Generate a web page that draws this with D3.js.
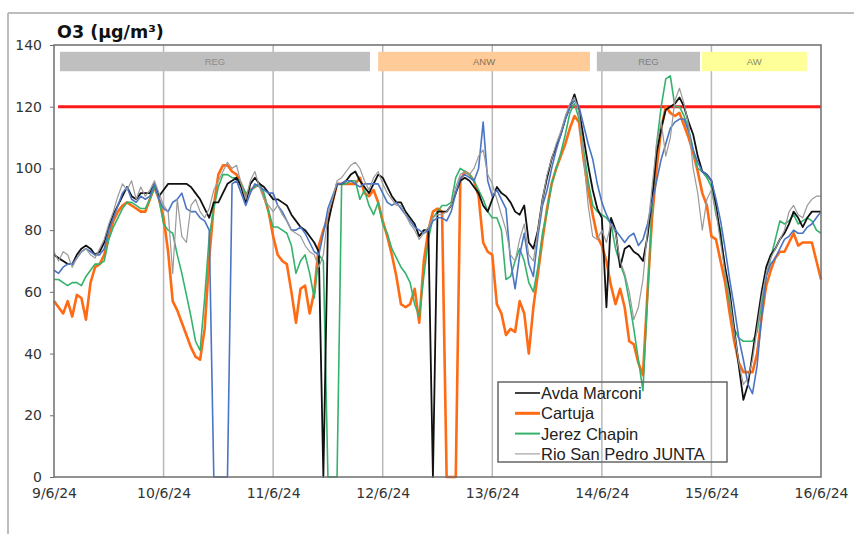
<!DOCTYPE html>
<html>
<head>
<meta charset="utf-8">
<script src="https://cdn.jsdelivr.net/npm/d3@7/dist/d3.min.js"></script>
<style>
  html, body { margin: 0; padding: 0; background: #fff; }
  svg { display: block; }
</style>
</head>
<body>
<svg id="chart" width="854" height="534"></svg>
<script>
// ---------- DATA ----------
const startDate = new Date(2024, 5, 9, 0, 0);
const dayTickLabels = ["9/6/24", "10/6/24", "11/6/24", "12/6/24", "13/6/24", "14/6/24", "15/6/24", "16/6/24"];
const yTicks = [0, 20, 40, 60, 80, 100, 120, 140];
const seriesNames = ["Avda Marconi", "Cartuja", "Jerez Chapin", "Rio San Pedro JUNTA", ""];
const limitValue = 120;

// Hourly O3 values, 9/6/24 00:00 .. 16/6/24 00:00
const avdaMarconi = [
72,71,70,69,69,72,74,75,74,72,73,76,81,85,88,91,94,91,90,92,92,92,95,91,
93,95,95,95,95,95,94,92,90,87,84,89,89,92,95,96,97,94,89,95,97,95,94,92,
90,90,89,88,85,83,81,80,78,76,73,0,82,89,95,95,96,98,99,96,94,92,95,98,
97,94,91,89,89,86,84,82,78,80,80,0,86,86,86,88,92,96,97,96,94,92,88,86,
90,94,92,91,89,86,85,88,76,74,80,90,97,103,107,111,116,120,124,119,110,101,93,87,
84,55,84,80,68,74,75,73,72,70,78,90,105,113,119,120,121,123,120,115,111,104,99,98,
96,88,78,68,60,48,36,25,30,40,50,60,68,72,74,77,79,82,86,84,81,84,86,86,
86];
const cartuja = [
57,55,53,57,52,59,58,51,63,68,69,72,78,83,86,88,89,88,87,86,86,90,94,90,
84,73,57,54,50,46,42,39,38,48,71,88,98,101,101,99,98,95,91,93,94,95,91,86,
78,72,70,69,60,50,61,62,53,60,75,80,84,89,95,95,95,95,95,97,92,91,93,89,
83,78,72,65,56,55,56,61,50,70,80,86,87,86,0,0,0,96,99,98,96,91,76,73,
72,56,53,46,48,47,57,53,40,55,66,77,87,95,100,104,108,113,117,115,103,93,85,78,
75,70,62,56,61,55,44,43,37,33,60,84,100,113,120,118,117,118,114,110,105,99,92,88,
78,77,70,63,53,44,37,34,34,34,40,52,62,67,71,73,73,76,79,75,76,76,76,70,
64];
const jerezChapin = [
64,64,63,62,63,63,62,65,67,69,69,70,77,81,84,87,89,89,88,87,87,90,94,90,
82,80,79,72,66,59,52,44,41,58,78,87,94,98,98,97,97,95,92,93,94,95,92,86,
81,81,80,79,75,66,70,72,66,58,72,70,0,0,0,95,95,96,96,90,93,88,85,89,
82,79,74,71,68,66,63,56,52,65,77,84,86,88,88,89,97,100,99,98,96,93,90,86,
84,84,80,64,65,70,74,70,63,60,68,79,86,95,100,105,111,118,121,116,106,96,88,86,
85,84,82,74,69,65,57,48,38,28,58,88,108,120,129,130,120,120,117,113,106,100,99,97,
94,85,80,66,56,48,45,44,44,44,47,56,65,71,77,83,82,83,85,82,83,84,83,80,
79];
const rioSanPedro = [
73,70,73,72,68,71,73,74,72,71,74,77,82,86,91,95,93,96,90,94,91,93,96,92,
88,86,66,90,78,76,88,90,86,84,87,93,96,99,102,100,101,95,90,96,99,94,90,88,
86,88,85,83,80,79,78,75,73,72,68,72,85,90,96,97,99,101,102,100,96,93,97,99,
95,92,90,88,88,85,82,80,77,79,81,84,85,85,86,88,94,98,99,98,100,104,106,98,
95,90,85,80,72,70,77,82,72,70,80,90,98,103,108,112,117,121,123,118,104,88,78,77,
80,76,82,79,70,66,60,51,55,64,80,94,108,115,104,110,122,126,121,114,100,92,80,90,
93,86,76,66,58,47,37,30,32,38,48,58,66,71,74,77,80,86,88,85,84,88,90,91,
91];
const fifthStation = [
67,66,68,69,69,71,73,74,73,72,72,74,80,84,88,92,94,90,89,91,90,91,95,90,
87,86,89,90,92,87,86,86,84,83,80,0,0,0,0,95,96,92,88,92,95,94,93,92,
92,88,86,83,80,80,81,79,76,73,72,79,87,91,95,95,96,96,95,94,95,95,95,95,
92,89,88,89,87,85,83,81,80,79,80,83,84,84,83,86,92,97,98,97,96,100,115,96,
91,93,90,87,70,61,72,79,69,65,78,88,93,100,106,111,116,120,122,120,114,108,103,95,
89,85,82,80,78,76,78,79,75,77,82,89,96,103,108,113,115,116,116,112,106,102,99,98,
96,90,83,74,64,55,45,38,30,27,36,52,65,69,71,74,77,78,80,79,79,81,82,84,
86];

// Episode bands (hours from start) drawn at the top of the plot
const bandLabels = ["REG", "ANW", "REG", "AW"];
const bandStartHour = [1.3, 71.0, 118.9, 141.9];
const bandEndHour = [69.2, 117.4, 141.5, 164.9];
const bandFills = ["#bfbfbf", "#ffcc99", "#bfbfbf", "#ffff99"];
const bandTextColors = ["#8c8c8c", "#8a6d55", "#7f7f7f", "#8a8a5a"];

// ---------- CHART ----------
const svg = d3.select("#chart");
const margin = { left: 54, right: 821, top: 45, bottom: 477 };
const hourMs = 3600 * 1000;
const endDate = new Date(startDate.getTime() + 168 * hourMs);

const x = d3.scaleTime().domain([startDate, endDate]).range([margin.left, margin.right]);
const y = d3.scaleLinear().domain([0, 140]).range([margin.bottom, margin.top]);

const tAt = h => new Date(startDate.getTime() + h * hourMs);

// outer frame
svg.append("line").attr("x1", 8).attr("x2", 854).attr("y1", 13).attr("y2", 13)
  .attr("stroke", "#bdbdbd").attr("stroke-width", 2);
svg.append("line").attr("x1", 8).attr("x2", 8).attr("y1", 13).attr("y2", 534)
  .attr("stroke", "#bdbdbd").attr("stroke-width", 2);

// title
svg.append("text").attr("x", 57).attr("y", 38)
  .attr("font-family", "DejaVu Sans, Verdana, sans-serif").attr("font-weight", "bold")
  .attr("font-size", 17.5).attr("fill", "#111").text("O3 (µg/m³)");

// vertical gridlines
const dayTicks = dayTickLabels.map((_, i) => tAt(i * 24));
svg.append("g").selectAll("line").data(dayTicks.slice(1, -1)).join("line")
  .attr("x1", d => x(d)).attr("x2", d => x(d))
  .attr("y1", margin.top).attr("y2", margin.bottom)
  .attr("stroke", "#b8b8b8").attr("stroke-width", 1.5);

// episode bands
const bands = bandLabels.map((l, i) => ({ label: l, s: bandStartHour[i], e: bandEndHour[i], fill: bandFills[i], tc: bandTextColors[i] }));
const bandG = svg.append("g");
bandG.selectAll("rect").data(bands).join("rect")
  .attr("x", d => x(tAt(d.s))).attr("width", d => x(tAt(d.e)) - x(tAt(d.s)))
  .attr("y", y(137.8)).attr("height", y(131.5) - y(137.8))
  .attr("fill", d => d.fill);
bandG.selectAll("text").data(bands).join("text")
  .attr("x", d => (x(tAt(d.s)) + x(tAt(d.e))) / 2).attr("y", y(134.6))
  .attr("dy", "0.35em").attr("text-anchor", "middle")
  .attr("font-family", "Liberation Sans, Arial, sans-serif").attr("font-size", 9.5)
  .attr("fill", d => d.tc).text(d => d.label);

// limit line
svg.append("line")
  .attr("x1", x(tAt(0.9))).attr("x2", x(endDate))
  .attr("y1", y(limitValue)).attr("y2", y(limitValue))
  .attr("stroke", "#ff1a1a").attr("stroke-width", 3);

// series
const seriesData = [avdaMarconi, cartuja, jerezChapin, rioSanPedro, fifthStation];
const seriesColors = ["#111111", "#ff6a13", "#33b36b", "#9a9a9a", "#4a74c4"];
const seriesWidths = [1.8, 2.6, 1.6, 1.2, 1.6];
const drawOrder = [1, 2, 0, 4, 3];

const line = d3.line().x((d, i) => x(tAt(i))).y(d => y(d));
const linesG = svg.append("g");
drawOrder.forEach(k => {
  linesG.append("path").datum(seriesData[k])
    .attr("d", line).attr("fill", "none")
    .attr("stroke", seriesColors[k]).attr("stroke-width", seriesWidths[k])
    .attr("stroke-linejoin", "round");
});

// plot border
svg.append("rect").attr("x", margin.left).attr("y", margin.top)
  .attr("width", margin.right - margin.left).attr("height", margin.bottom - margin.top)
  .attr("fill", "none").attr("stroke", "#6e6e6e").attr("stroke-width", 1.5);

// y axis
const yAxis = d3.axisLeft(y).tickValues(yTicks).tickSize(4).tickPadding(8);
const yg = svg.append("g").attr("transform", `translate(${margin.left},0)`).call(yAxis);
yg.select(".domain").remove();
yg.selectAll(".tick line").attr("stroke", "#6e6e6e");
yg.selectAll(".tick text").attr("font-family", "DejaVu Sans, Verdana, sans-serif")
  .attr("font-size", 14).attr("fill", "#333");

// x axis
const xAxis = d3.axisBottom(x).tickValues(dayTicks).tickSize(0).tickPadding(11)
  .tickFormat((d, i) => dayTickLabels[i]);
const xg = svg.append("g").attr("transform", `translate(0,${margin.bottom})`).call(xAxis);
xg.select(".domain").remove();
xg.selectAll(".tick text").attr("font-family", "DejaVu Sans, Verdana, sans-serif")
  .attr("font-size", 14).attr("fill", "#333");

// legend (no fill: gridlines show through)
const legendNames = seriesNames.slice(0, 4);
const legendWidths = [1.6, 3, 2, 1.1];
const lg = svg.append("g");
lg.append("rect").attr("x", 498).attr("y", 382).attr("width", 229).attr("height", 80)
  .attr("fill", "none").attr("stroke", "#666").attr("stroke-width", 1.5);
legendNames.forEach((n, i) => {
  const yy = 393 + i * 20.3;
  lg.append("line").attr("x1", 515).attr("x2", 540).attr("y1", yy).attr("y2", yy)
    .attr("stroke", seriesColors[i]).attr("stroke-width", legendWidths[i]);
  lg.append("text").attr("x", 541).attr("y", yy).attr("dy", "0.36em")
    .attr("font-family", "Liberation Sans, Arial, sans-serif").attr("font-size", 16.5)
    .attr("fill", "#222").text(n);
});
</script>
</body>
</html>
